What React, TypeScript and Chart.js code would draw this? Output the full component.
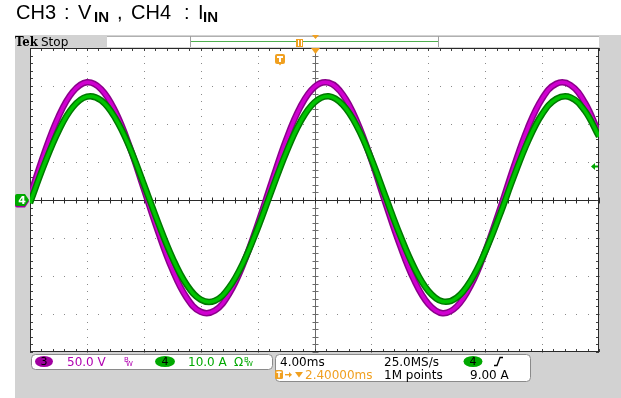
import React, { useEffect, useRef } from "react";
import { Chart, registerables } from "chart.js";

Chart.register(...registerables);

// ---- data ----
const timeMs = [0,1,2,3,4,5,6,7,8,9,10,11,12,13,14,15,16,17,18,19,20,21,22,23,24,25,26,27,28,29,30,31,32,33,34,35,36,37,38,39,40];
const ch3Volts = [4.6,61.4,109.4,142.1,154.9,145.8,116.4,70.6,14.8,-41.4,-91.2,-128.2,-147.1,-145.5,-123.4,-83.9,-32.6,24.0,78.7,122.3,148.8,154.3,138.3,102.6,52.7,-4.5,-59.0,-105.2,-136.6,-148.9,-140.2,-111.9,-67.8,-14.2,43.1,94.9,133.3,153.0,151.2,128.3,87.3];
const ch4Amps = [-0.8,9.3,18.1,24.4,27.2,26.2,21.5,13.9,4.2,-5.9,-15.1,-22.2,-26.2,-26.5,-23.0,-16.4,-7.5,2.6,12.4,20.5,25.7,27.3,25.0,19.3,10.8,0.8,-9.1,-17.7,-23.9,-26.7,-25.7,-21.1,-13.6,-4.2,6.0,15.4,22.6,26.6,27.0,23.5,16.7];

const msPerDiv = 4;
const voltsPerDiv = 50;
const ampsPerDiv = 10;
const hDivs = 10;
const vDivs = 8;
const triggerLevelA = 9.0;
const triggerPosMs = 2.4;

const ch3Scale = "50.0 V";
const ch4Scale = "10.0 A";
const timebase = "4.00ms";
const sampleRate = "25.0MS/s";
const recordLen = "1M points";
const trigDelay = "2.40000ms";
const trigLevel = "9.00 A";

const W = 621;
const H = 398;
const GRAY = "#d2d2d2";
const ORANGE = "#f0a020";
const GRN = "#00a800";
const FONT = "'DejaVu Sans', sans-serif";

function rr(ctx: CanvasRenderingContext2D, x: number, y: number, w: number, h: number, r: number) {
  ctx.beginPath();
  (ctx as any).roundRect(x, y, w, h, r);
}

function bw(ctx: CanvasRenderingContext2D, x: number, y: number, color: string) {
  ctx.fillStyle = color;
  ctx.font = `7px ${FONT}`;
  ctx.fillText("B", x, y - 2);
  ctx.fillText("W", x + 2, y + 2);
}

const scopePlugin = {
  id: "scope",
  beforeDraw(chart: any) {
    const ctx: CanvasRenderingContext2D = chart.ctx;
    const { left, right, top, bottom } = chart.chartArea;
    const xs = chart.scales.x;
    const ys = chart.scales.y;
    ctx.save();
    ctx.fillStyle = "#ffffff";
    ctx.fillRect(0, 0, W, H);
    ctx.fillStyle = GRAY;
    ctx.fillRect(15, 35, W - 15, H - 35);

    // header
    ctx.fillStyle = "#ffffff";
    ctx.fillRect(107, 36, right - 107, 11);
    ctx.strokeStyle = "#b0b0b0";
    ctx.lineWidth = 1;
    ctx.beginPath();
    ctx.moveTo(107, 36.5);
    ctx.lineTo(right, 36.5);
    ctx.stroke();
    // record bar
    ctx.strokeStyle = "#a0a0a0";
    ctx.beginPath();
    ctx.moveTo(190.5, 36); ctx.lineTo(190.5, 47);
    ctx.moveTo(438.5, 36); ctx.lineTo(438.5, 47);
    ctx.stroke();
    ctx.strokeStyle = "#50b050";
    ctx.beginPath();
    ctx.moveTo(191, 41.5); ctx.lineTo(438, 41.5);
    ctx.stroke();

    ctx.fillStyle = "#000";
    ctx.textBaseline = "alphabetic";
    ctx.font = `bold 13px 'DejaVu Serif Condensed', 'DejaVu Serif', serif`;
    ctx.fillText("Tek", 15, 46);
    ctx.font = `12px ${FONT}`;
    ctx.fillText("Stop", 41, 46);

    // plot area
    ctx.fillStyle = "#ffffff";
    ctx.fillRect(left, top, right - left, bottom - top);

    const xMinor = (right - left) / hDivs / 5;
    const yMinor = (bottom - top) / vDivs / 5;
    const cx = Math.round(xs.getPixelForValue(xs.min + (hDivs / 2) * msPerDiv)) + 0.5;
    const cy = Math.round(ys.getPixelForValue(0)) + 0.5;

    // graticule dots
    ctx.fillStyle = "#8a8a8a";
    for (let i = 1; i < hDivs; i++) {
      if (i === hDivs / 2) continue;
      const px = Math.round(xs.getPixelForValue(xs.min + i * msPerDiv));
      for (let j = 0; j <= vDivs * 5; j++) ctx.fillRect(px, Math.round(top + j * yMinor), 1, 1);
    }
    for (let k = 1; k < vDivs; k++) {
      if (k === vDivs / 2) continue;
      const py = Math.round(ys.getPixelForValue(ys.min + k * voltsPerDiv));
      for (let j = 0; j <= hDivs * 5; j++) ctx.fillRect(Math.round(left + j * xMinor), py, 1, 1);
    }

    // center lines with ticks
    ctx.strokeStyle = "#6a6a6a";
    ctx.beginPath();
    ctx.moveTo(cx, top); ctx.lineTo(cx, bottom);
    for (let j = 0; j <= vDivs * 5; j++) {
      const py = Math.round(top + j * yMinor) + 0.5;
      ctx.moveTo(cx - 3, py); ctx.lineTo(cx + 3, py);
    }
    ctx.stroke();
    ctx.strokeStyle = "#2a2a2a";
    ctx.beginPath();
    ctx.moveTo(left, cy); ctx.lineTo(right, cy);
    for (let j = 0; j <= hDivs * 5; j++) {
      const px = Math.round(left + j * xMinor) + 0.5;
      ctx.moveTo(px, cy - 3); ctx.lineTo(px, cy + 3);
    }
    ctx.stroke();

    // edge ticks
    ctx.strokeStyle = "#404040";
    ctx.beginPath();
    for (let j = 0; j <= hDivs * 5; j++) {
      const px = Math.round(left + j * xMinor) + 0.5;
      ctx.moveTo(px, top); ctx.lineTo(px, top + 3);
      ctx.moveTo(px, bottom); ctx.lineTo(px, bottom - 3);
    }
    for (let j = 0; j <= vDivs * 5; j++) {
      const py = Math.round(top + j * yMinor) + 0.5;
      ctx.moveTo(left, py); ctx.lineTo(left + 3, py);
      ctx.moveTo(right, py); ctx.lineTo(right - 3, py);
    }
    ctx.stroke();
    ctx.strokeStyle = "#2a2a2a";
    ctx.strokeRect(left + 0.5, top + 0.5, right - left - 1, bottom - top - 1);
    ctx.restore();
  },
  afterDatasetsDraw(chart: any) {
    const ctx: CanvasRenderingContext2D = chart.ctx;
    const { left, right, top } = chart.chartArea;
    const xs = chart.scales.x;
    const y2 = chart.scales.y2;
    ctx.save();
    const cx = Math.round(xs.getPixelForValue(xs.min + (hDivs / 2) * msPerDiv));
    const cy = Math.round(chart.scales.y.getPixelForValue(0));

    // orange trigger markers
    ctx.fillStyle = ORANGE;
    ctx.beginPath();
    ctx.moveTo(cx - 3, 35); ctx.lineTo(cx + 4, 35); ctx.lineTo(cx + 0.5, 39); ctx.closePath(); ctx.fill();
    ctx.beginPath();
    ctx.moveTo(cx - 4, top); ctx.lineTo(cx + 5, top); ctx.lineTo(cx + 0.5, top + 6); ctx.closePath(); ctx.fill();
    // record bar T
    ctx.fillRect(296, 39, 7, 8);
    ctx.fillStyle = "#fff";
    ctx.fillRect(298, 40, 1, 6);
    ctx.fillRect(301, 40, 1, 6);
    // trigger position T
    const tPos = Math.round(cx - (triggerPosMs / msPerDiv) * ((right - left) / hDivs) - 1);
    ctx.fillStyle = ORANGE;
    rr(ctx, tPos - 5, 54, 10, 10, 2);
    ctx.fill();
    ctx.beginPath();
    ctx.moveTo(tPos - 2, 63); ctx.lineTo(tPos + 2, 63); ctx.lineTo(tPos, 65.5); ctx.closePath(); ctx.fill();
    ctx.fillStyle = "#fff";
    ctx.fillRect(tPos - 3, 56, 6, 2);
    ctx.fillRect(tPos - 1, 56, 2, 6);

    // trigger level arrow (green)
    const ly = Math.round(y2.getPixelForValue(triggerLevelA)) + 0.5;
    ctx.fillStyle = GRN;
    ctx.beginPath();
    ctx.moveTo(591, ly); ctx.lineTo(595, ly - 3.5); ctx.lineTo(595, ly + 3.5); ctx.closePath(); ctx.fill();
    ctx.fillRect(594, ly - 1, 4, 2);

    // channel ground markers
    const marker = (x: number, y: number, fill: string) => {
      ctx.beginPath();
      ctx.moveTo(x + 2, y - 6); ctx.lineTo(x + 10, y - 6); ctx.lineTo(x + 14, y);
      ctx.lineTo(x + 10, y + 6); ctx.lineTo(x + 2, y + 6); ctx.quadraticCurveTo(x, y + 6, x, y + 4);
      ctx.lineTo(x, y - 4); ctx.quadraticCurveTo(x, y - 6, x + 2, y - 6);
      ctx.closePath();
      ctx.fillStyle = fill;
      ctx.fill();
    };
    marker(15, cy + 1.5, "#a000a0");
    marker(15, cy, GRN);
    ctx.fillStyle = "#fff";
    ctx.font = `bold 11px ${FONT}`;
    ctx.textAlign = "center";
    ctx.textBaseline = "middle";
    ctx.fillText("4", 22, cy + 1);

    // bottom panels
    ctx.textAlign = "left";
    ctx.textBaseline = "alphabetic";
    ctx.lineWidth = 1;
    ctx.strokeStyle = "#8a8a8a";
    ctx.fillStyle = "#fff";
    rr(ctx, 31.5, 354.5, 241, 15, 4);
    ctx.fill(); ctx.stroke();
    ctx.fillStyle = "#fff";
    rr(ctx, 275.5, 354.5, 255, 27, 4);
    ctx.fill(); ctx.stroke();

    const badge = (x: number, y: number, rx: number, fill: string, label: string) => {
      ctx.beginPath();
      ctx.ellipse(x, y, rx, 5.5, 0, 0, Math.PI * 2);
      ctx.fillStyle = fill;
      ctx.fill();
      ctx.fillStyle = "#000";
      ctx.font = `11px ${FONT}`;
      ctx.textAlign = "center";
      ctx.textBaseline = "middle";
      ctx.fillText(label, x, y + 0.5);
      ctx.textAlign = "left";
      ctx.textBaseline = "alphabetic";
    };
    badge(44, 361.5, 9, "#a000a0", "3");
    ctx.font = `12px ${FONT}`;
    ctx.fillStyle = "#b000b0";
    ctx.fillText(ch3Scale, 67, 366);
    bw(ctx, 124, 364, "#b000b0");
    badge(165, 361.5, 10, GRN, "4");
    ctx.font = `12px ${FONT}`;
    ctx.fillStyle = GRN;
    ctx.fillText(ch4Scale, 188, 366);
    ctx.font = `12px ${FONT}`;
    ctx.fillText("Ω", 234, 366);
    bw(ctx, 244, 364, GRN);

    ctx.font = `12px ${FONT}`;
    ctx.fillStyle = "#000";
    ctx.fillText(timebase, 280, 366);
    ctx.fillText(sampleRate, 384, 366);
    badge(473, 361.5, 9.5, GRN, "4");
    ctx.strokeStyle = "#000";
    ctx.lineWidth = 1.3;
    ctx.beginPath();
    ctx.moveTo(494, 365.5); ctx.lineTo(497, 365.5); ctx.lineTo(500, 357.5); ctx.lineTo(503, 357.5);
    ctx.stroke();
    ctx.lineWidth = 1;
    ctx.font = `12px ${FONT}`;
    ctx.fillStyle = "#000";
    ctx.fillText(recordLen, 384, 379);
    ctx.fillText(trigLevel, 470, 379);
    // delay row
    ctx.fillStyle = ORANGE;
    rr(ctx, 275, 370, 8, 9, 1.5);
    ctx.fill();
    ctx.fillStyle = "#fff";
    ctx.fillRect(276.5, 371.5, 5, 1.5);
    ctx.fillRect(278.2, 371.5, 1.6, 6);
    ctx.fillStyle = ORANGE;
    ctx.fillRect(285, 374, 5, 1.4);
    ctx.beginPath();
    ctx.moveTo(289, 372); ctx.lineTo(292, 374.7); ctx.lineTo(289, 377.4); ctx.closePath(); ctx.fill();
    ctx.beginPath();
    ctx.moveTo(295, 372); ctx.lineTo(303, 372); ctx.lineTo(299, 377.5); ctx.closePath(); ctx.fill();
    ctx.font = `12px ${FONT}`;
    ctx.fillText(trigDelay, 305, 379);
    ctx.restore();
  },
};

export default function App() {
  const ref = useRef<HTMLCanvasElement>(null);
  useEffect(() => {
    if (!ref.current) return;
    const v = timeMs.map((t, i) => ({ x: t, y: ch3Volts[i] }));
    const a = timeMs.map((t, i) => ({ x: t, y: ch4Amps[i] }));
    const chart = new Chart(ref.current, {
      type: "line",
      data: {
        datasets: [
          { label: "CH4 I_IN", data: a, yAxisID: "y2", borderColor: "#00c400", borderWidth: 3.5, pointRadius: 0, tension: 0.4, fill: false },
          { label: "CH4 edge", data: a, yAxisID: "y2", borderColor: "#007800", borderWidth: 6.5, pointRadius: 0, tension: 0.4, fill: false },
          { label: "CH3 V_IN", data: v, yAxisID: "y", borderColor: "#d000d0", borderWidth: 3.5, pointRadius: 0, tension: 0.4, fill: false },
          { label: "CH3 edge", data: v, yAxisID: "y", borderColor: "#8a008a", borderWidth: 6.5, pointRadius: 0, tension: 0.4, fill: false },
        ],
      },
      options: {
        responsive: false,
        animation: false,
        devicePixelRatio: 1,
        layout: { padding: { left: 30, right: 22, top: 48, bottom: 46 } },
        plugins: { legend: { display: false }, tooltip: { enabled: false }, title: { display: false } },
        scales: {
          x: { type: "linear", min: 0, max: hDivs * msPerDiv, display: false },
          y: { type: "linear", min: -(vDivs / 2) * voltsPerDiv, max: (vDivs / 2) * voltsPerDiv, display: false },
          y2: { type: "linear", min: -(vDivs / 2) * ampsPerDiv, max: (vDivs / 2) * ampsPerDiv, display: false },
        },
      },
      plugins: [scopePlugin],
    });
    return () => chart.destroy();
  }, []);

  const base: React.CSSProperties = {
    position: "absolute",
    top: 1,
    whiteSpace: "pre",
    lineHeight: "23px",
    fontFamily: "'Liberation Sans', Arial, sans-serif",
    fontSize: 20,
    color: "#000",
  };
  const sub: React.CSSProperties = { ...base, top: 5, fontWeight: "bold", fontSize: 15 };
  return (
    <div style={{ position: "absolute", left: 0, top: 0, width: W, height: H, background: "#fff" }}>
      <canvas ref={ref} width={W} height={H} style={{ position: "absolute", left: 0, top: 0, display: "block" }} />
      <span style={{ ...base, left: 16 }}>CH3</span>
      <span style={{ ...base, left: 64 }}>:</span>
      <span style={{ ...base, left: 78 }}>V</span>
      <span style={{ ...sub, left: 94 }}>IN</span>
      <span style={{ ...base, left: 117 }}>,</span>
      <span style={{ ...base, left: 131 }}>CH4</span>
      <span style={{ ...base, left: 184 }}>:</span>
      <span style={{ ...base, left: 198 }}>I</span>
      <span style={{ ...sub, left: 203 }}>IN</span>
    </div>
  );
}
